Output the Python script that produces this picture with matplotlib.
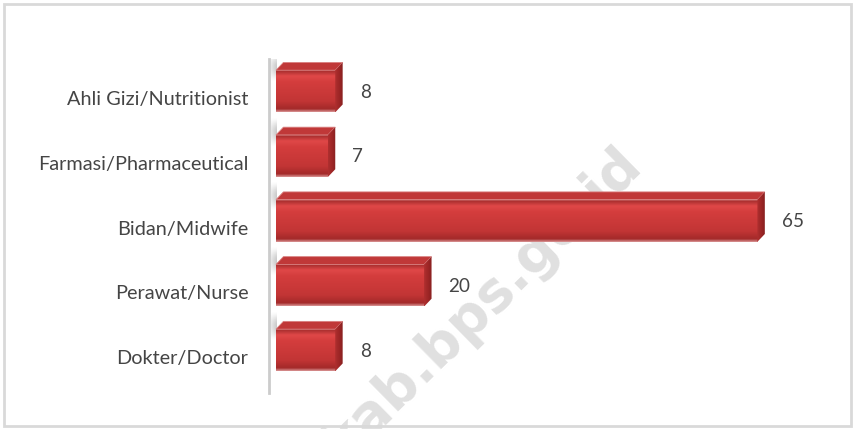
import matplotlib as mpl
mpl.use('Agg')
import matplotlib.pyplot as plt
import numpy as np
from matplotlib.patches import Rectangle, Polygon
from matplotlib.colors import LinearSegmentedColormap

# data (bottom to top)
categories = ['Dokter/Doctor', 'Perawat/Nurse', 'Bidan/Midwife',
              'Farmasi/Pharmaceutical', 'Ahli Gizi/Nutritionist']
values = [8, 20, 65, 7, 8]

watermark = 'kab.bps.go.id'

plt.rcParams['font.family'] = ['Lato', 'DejaVu Sans']
textcolor = '#454545'

# 3d look of the bars
depth_x = 1.0
depth_y = 0.12
face_lo = -0.22
face_hi = 0.43

face_cmap = LinearSegmentedColormap.from_list('face', [
    (0.00, '#e6a3a3'), (0.04, '#a82e2e'), (0.16, '#e04848'),
    (0.30, '#d43d3d'), (0.75, '#c23535'), (0.93, '#a32929'),
    (1.00, '#d99494')])
side_cmap = LinearSegmentedColormap.from_list('side', [
    (0.0, '#b03030'), (0.5, '#9e2626'), (1.0, '#882020')])

fig = plt.figure(figsize=(8.54, 4.29), dpi=100)
ax = fig.add_axes([268 / 854, 1 - 392.6 / 429, (830 - 268) / 854, (392.6 - 59.2) / 429])
ax.set_facecolor('none')
ax.set_xlim(-1.08, 74.8)
ax.set_ylim(-0.55, 4.6)

# watermark behind the bars
ax.text(0.753, 0.613, watermark, transform=fig.transFigure, rotation=44.5,
        rotation_mode='anchor', ha='right', va='baseline',
        fontsize=39.5, fontweight='bold', family='DejaVu Sans',
        color='#e0e0e0', zorder=0, clip_on=False)

grad = np.linspace(0, 1, 200).reshape(-1, 1)

# soft grey smear where each bar meets the wall
smear = np.zeros((40, 10, 4))
smear[..., :3] = 0.62
smear[..., 3] = (np.sin(np.linspace(0, np.pi, 40)) ** 1.5)[:, None] * \
    np.linspace(0.15, 0.55, 10)[None, :]

for i, v in enumerate(values):
    y0 = i + face_lo
    y1 = i + face_hi

    ax.imshow(smear, aspect='auto', extent=[-0.95, 0, y1 - 0.18, y1 + depth_y + 0.15],
              zorder=1, interpolation='bilinear')

    # front face with gradient
    front = Rectangle((0, y0), v, y1 - y0, facecolor='none', lw=0, zorder=3)
    ax.add_patch(front)
    im = ax.imshow(grad, cmap=face_cmap, aspect='auto', extent=[0, v, y0, y1],
                   origin='upper', zorder=3, interpolation='bilinear')
    im.set_clip_path(front)

    # top face
    ax.add_patch(Polygon([(0, y1), (depth_x, y1 + depth_y),
                          (v + depth_x, y1 + depth_y), (v, y1)],
                         closed=True, facecolor='#c03838', edgecolor='#d98080',
                         lw=0.6, zorder=3))

    # right side face
    side = Polygon([(v, y0), (v, y1), (v + depth_x, y1 + depth_y),
                    (v + depth_x, y0 + depth_y)], closed=True,
                   facecolor='none', lw=0, zorder=3)
    ax.add_patch(side)
    ims = ax.imshow(np.linspace(0, 1, 50).reshape(1, -1), cmap=side_cmap,
                    aspect='auto', extent=[v, v + depth_x, y0, y1 + depth_y],
                    zorder=3, interpolation='bilinear')
    ims.set_clip_path(side)

    ax.text(v + depth_x + 2.3, i + 0.09, str(v), ha='left', va='center',
            fontsize=13.6, color=textcolor, zorder=4)

ax.set_yticks(range(len(categories)))
ax.set_yticklabels(categories)
ax.tick_params(axis='y', length=0, pad=14.5, labelcolor=textcolor,
               labelsize=14.3)
ax.set_xticks([])

for s in ['top', 'right', 'bottom']:
    ax.spines[s].set_visible(False)
ax.spines['left'].set_position(('data', -1.0))
ax.spines['left'].set_color('#cccccc')
ax.spines['left'].set_linewidth(2)

# outer frame
fig.patches.append(Rectangle((4 / 854, 3 / 429), 847 / 854, 422 / 429,
                             transform=fig.transFigure, fill=False,
                             edgecolor='#d9d9d9', lw=2))

fig.savefig('out.png', dpi=100)
